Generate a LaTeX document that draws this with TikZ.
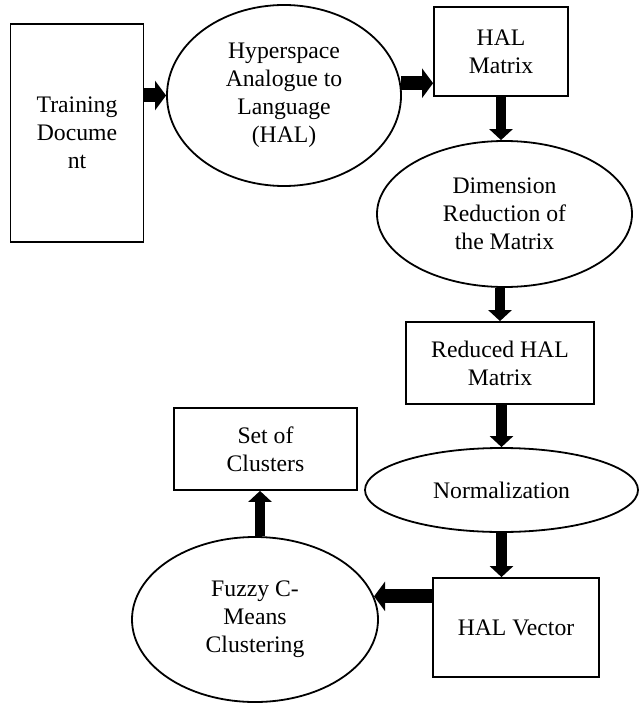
\documentclass[tikz,border=0pt]{standalone}
\usepackage{fontspec}
\setmainfont{Liberation Serif}
\usetikzlibrary{shapes.geometric,arrows.meta}
\begin{document}
\begin{tikzpicture}[x=1bp,y=-1bp,
  every node/.style={font=\fontsize{23.7bp}{28bp}\selectfont, align=center, inner sep=0pt, line width=1.8bp, draw=black},
  boxnode/.style={rectangle},
  ellnode/.style={ellipse},
  bigarrow/.style={line width=14bp, -{Triangle[width=29bp,length=11bp]}},
  smallarrow/.style={line width=10.5bp, -{Triangle[width=23bp,length=11bp]}}
]
\useasboundingbox (0,0) rectangle (639,703);
\node[boxnode, minimum width=133bp, minimum height=218bp] (train) at (77,133) {Training\\Docume\\nt};
\node[ellnode, minimum width=234bp, minimum height=181bp] (hal) at (284,95.5) {Hyperspace\\Analogue to\\Language\\(HAL)};
\node[boxnode, minimum width=134bp, minimum height=89bp] (halmat) at (501,51.5) {HAL\\Matrix};
\node[ellnode, minimum width=255bp, minimum height=146bp] (dim) at (504.5,214) {Dimension\\Reduction of\\the Matrix};
\node[boxnode, minimum width=188bp, minimum height=82bp] (red) at (500,363) {Reduced HAL\\Matrix};
\node[ellnode, minimum width=273bp, minimum height=84bp] (norm) at (501.5,490) {Normalization};
\node[boxnode, minimum width=166bp, minimum height=99bp] (vec) at (516,627.5) {HAL Vector};
\node[ellnode, minimum width=246bp, minimum height=165bp] (fuzzy) at (255,619.5) {Fuzzy C-\\Means\\Clustering};
\node[boxnode, minimum width=183bp, minimum height=82bp] (set) at (265.5,449) {Set of\\Clusters};

\draw[bigarrow] (train.east |- hal.west) -- (hal.west);
\draw[bigarrow] (hal.6.65) -- (hal.6.65 -| halmat.west);
\draw[smallarrow] (halmat.south) -- (halmat.south |- dim.north);
\draw[smallarrow] (dim.south -| red.north) -- (red.north);
\draw[smallarrow] (norm.north |- red.south) -- (norm.north);
\draw[smallarrow] (norm.south) -- (norm.south |- vec.north);
\draw[bigarrow] (vec.west |- fuzzy.11.8) -- (fuzzy.11.8);
\draw[smallarrow] ([xshift=5bp]fuzzy.north) -- ([xshift=5bp]fuzzy.north |- set.south);
\end{tikzpicture}
\end{document}
